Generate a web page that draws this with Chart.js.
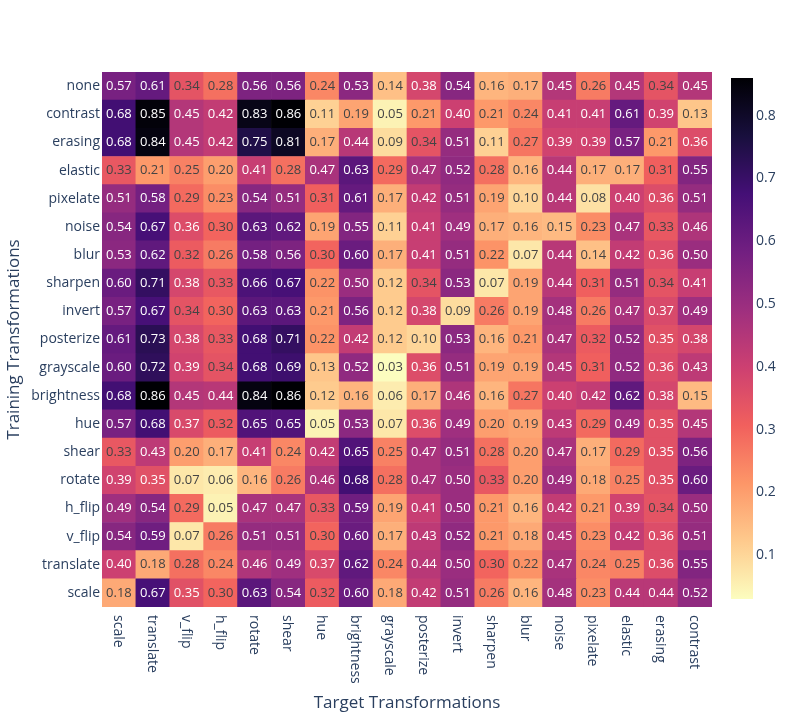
<!DOCTYPE html>
<html>
<head>
<meta charset="utf-8">
<script src="https://cdn.jsdelivr.net/npm/chart.js@4/dist/chart.umd.min.js"></script>
<style>
  body { margin: 0; background: #fff; }
  #main { position: absolute; left: 0; top: 0; width: 789px; height: 717px; }
  #bar { position: absolute; left: 700px; top: 0; width: 89px; height: 717px; }
</style>
</head>
<body>
<div id="main"><canvas id="heat"></canvas></div>
<div id="bar"><canvas id="colorbar"></canvas></div>
<script>
// target transformations (columns, left to right)
var targetLabels = ['scale', 'translate', 'v_flip', 'h_flip', 'rotate', 'shear', 'hue', 'brightness', 'grayscale',
    'posterize', 'invert', 'sharpen', 'blur', 'noise', 'pixelate', 'elastic', 'erasing', 'contrast'];

// training transformations (rows, top to bottom)
var trainingLabels = ['none', 'contrast', 'erasing', 'elastic', 'pixelate', 'noise', 'blur', 'sharpen', 'invert',
    'posterize', 'grayscale', 'brightness', 'hue', 'shear', 'rotate', 'h_flip', 'v_flip', 'translate', 'scale'];

var rowNone       = [0.57, 0.61, 0.34, 0.28, 0.56, 0.56, 0.24, 0.53, 0.14, 0.38, 0.54, 0.16, 0.17, 0.45, 0.26, 0.45, 0.34, 0.45];
var rowContrast   = [0.68, 0.85, 0.45, 0.42, 0.83, 0.86, 0.11, 0.19, 0.05, 0.21, 0.40, 0.21, 0.24, 0.41, 0.41, 0.61, 0.39, 0.13];
var rowErasing    = [0.68, 0.84, 0.45, 0.42, 0.75, 0.81, 0.17, 0.44, 0.09, 0.34, 0.51, 0.11, 0.27, 0.39, 0.39, 0.57, 0.21, 0.36];
var rowElastic    = [0.33, 0.21, 0.25, 0.20, 0.41, 0.28, 0.47, 0.63, 0.29, 0.47, 0.52, 0.28, 0.16, 0.44, 0.17, 0.17, 0.31, 0.55];
var rowPixelate   = [0.51, 0.58, 0.29, 0.23, 0.54, 0.51, 0.31, 0.61, 0.17, 0.42, 0.51, 0.19, 0.10, 0.44, 0.08, 0.40, 0.36, 0.51];
var rowNoise      = [0.54, 0.67, 0.36, 0.30, 0.63, 0.62, 0.19, 0.55, 0.11, 0.41, 0.49, 0.17, 0.16, 0.15, 0.23, 0.47, 0.33, 0.46];
var rowBlur       = [0.53, 0.62, 0.32, 0.26, 0.58, 0.56, 0.30, 0.60, 0.17, 0.41, 0.51, 0.22, 0.07, 0.44, 0.14, 0.42, 0.36, 0.50];
var rowSharpen    = [0.60, 0.71, 0.38, 0.33, 0.66, 0.67, 0.22, 0.50, 0.12, 0.34, 0.53, 0.07, 0.19, 0.44, 0.31, 0.51, 0.34, 0.41];
var rowInvert     = [0.57, 0.67, 0.34, 0.30, 0.63, 0.63, 0.21, 0.56, 0.12, 0.38, 0.09, 0.26, 0.19, 0.48, 0.26, 0.47, 0.37, 0.49];
var rowPosterize  = [0.61, 0.73, 0.38, 0.33, 0.68, 0.71, 0.22, 0.42, 0.12, 0.10, 0.53, 0.16, 0.21, 0.47, 0.32, 0.52, 0.35, 0.38];
var rowGrayscale  = [0.60, 0.72, 0.39, 0.34, 0.68, 0.69, 0.13, 0.52, 0.03, 0.36, 0.51, 0.19, 0.19, 0.45, 0.31, 0.52, 0.36, 0.43];
var rowBrightness = [0.68, 0.86, 0.45, 0.44, 0.84, 0.86, 0.12, 0.16, 0.06, 0.17, 0.46, 0.16, 0.27, 0.40, 0.42, 0.62, 0.38, 0.15];
var rowHue        = [0.57, 0.68, 0.37, 0.32, 0.65, 0.65, 0.05, 0.53, 0.07, 0.36, 0.49, 0.20, 0.19, 0.43, 0.29, 0.49, 0.35, 0.45];
var rowShear      = [0.33, 0.43, 0.20, 0.17, 0.41, 0.24, 0.42, 0.65, 0.25, 0.47, 0.51, 0.28, 0.20, 0.47, 0.17, 0.29, 0.35, 0.56];
var rowRotate     = [0.39, 0.35, 0.07, 0.06, 0.16, 0.26, 0.46, 0.68, 0.28, 0.47, 0.50, 0.33, 0.20, 0.49, 0.18, 0.25, 0.35, 0.60];
var rowHFlip      = [0.49, 0.54, 0.29, 0.05, 0.47, 0.47, 0.33, 0.59, 0.19, 0.41, 0.50, 0.21, 0.16, 0.42, 0.21, 0.39, 0.34, 0.50];
var rowVFlip      = [0.54, 0.59, 0.07, 0.26, 0.51, 0.51, 0.30, 0.60, 0.17, 0.43, 0.52, 0.21, 0.18, 0.45, 0.23, 0.42, 0.36, 0.51];
var rowTranslate  = [0.40, 0.18, 0.28, 0.24, 0.46, 0.49, 0.37, 0.62, 0.24, 0.44, 0.50, 0.30, 0.22, 0.47, 0.24, 0.25, 0.36, 0.55];
var rowScale      = [0.18, 0.67, 0.35, 0.30, 0.63, 0.54, 0.32, 0.60, 0.18, 0.42, 0.51, 0.26, 0.16, 0.48, 0.23, 0.44, 0.44, 0.52];

var trainingRows = [rowNone, rowContrast, rowErasing, rowElastic, rowPixelate, rowNoise, rowBlur, rowSharpen, rowInvert,
    rowPosterize, rowGrayscale, rowBrightness, rowHue, rowShear, rowRotate, rowHFlip, rowVFlip, rowTranslate, rowScale];

var colorbarTicks = [0.1, 0.2, 0.3, 0.4, 0.5, 0.6, 0.7, 0.8];

// plotly Magma, used reversed (light = low)
var magmaStops = ['#000004', '#180f3d', '#440f76', '#721f81', '#9e2f7f', '#cd4071', '#f1605d', '#fd9668', '#feca8d', '#fcfdbf'];

var FONT = 'Open Sans';
var INK = '#2a3f5f';

var allVals = [].concat.apply([], trainingRows);
var zMin = Math.min.apply(null, allVals);
var zMax = Math.max.apply(null, allVals);

function hexRgb(h) {
    return [parseInt(h.substr(1, 2), 16), parseInt(h.substr(3, 2), 16), parseInt(h.substr(5, 2), 16)];
}

function rgbFor(v) {
    var t = (v - zMin) / (zMax - zMin);
    var s = (1 - t) * (magmaStops.length - 1);   // reversed scale
    var i = Math.min(Math.floor(s), magmaStops.length - 2);
    var f = s - i;
    var a = hexRgb(magmaStops[i]), b = hexRgb(magmaStops[i + 1]);
    return [0, 1, 2].map(function(k) { return Math.round(a[k] + (b[k] - a[k]) * f); });
}

function colorFor(v) {
    var c = rgbFor(v);
    return 'rgb(' + c[0] + ',' + c[1] + ',' + c[2] + ')';
}

function textColorFor(v) {
    var c = rgbFor(v);
    var bright = (c[0] * 299 + c[1] * 587 + c[2] * 114) / 1000;
    return bright < 128 ? '#ffffff' : '#444444';
}

// one stacked dataset per training row, bottom row first
var datasets = [];
for (var k = trainingRows.length - 1; k >= 0; k--) {
    var row = trainingRows[k];
    datasets.push({
        label: trainingLabels[k],
        data: row.map(function() { return 1; }),
        values: row,
        backgroundColor: row.map(colorFor),
        borderWidth: 0,
        barPercentage: 1,
        categoryPercentage: 1
    });
}

var cellText = {
    id: 'cellText',
    afterDatasetsDraw: function(chart) {
        var ctx = chart.ctx;
        ctx.save();
        ctx.font = '13px "' + FONT + '"';
        ctx.textAlign = 'center';
        ctx.textBaseline = 'middle';
        chart.data.datasets.forEach(function(ds, i) {
            chart.getDatasetMeta(i).data.forEach(function(bar, j) {
                var v = ds.values[j];
                ctx.fillStyle = textColorFor(v);
                ctx.fillText(v.toFixed(2), bar.x, (bar.y + bar.base) / 2);
            });
        });
        ctx.restore();
    }
};

// x tick labels read top to bottom, so draw them turned clockwise
var xTickText = {
    id: 'xTickText',
    afterDraw: function(chart) {
        var ctx = chart.ctx;
        var xs = chart.scales.x;
        ctx.save();
        ctx.font = '14px "' + FONT + '"';
        ctx.fillStyle = INK;
        ctx.textAlign = 'left';
        ctx.textBaseline = 'middle';
        targetLabels.forEach(function(lab, i) {
            ctx.save();
            ctx.translate(xs.getPixelForTick(i) - 1, chart.chartArea.bottom + 8);
            ctx.rotate(Math.PI / 2);
            ctx.fillText(lab, 0, 0);
            ctx.restore();
        });
        ctx.restore();
    }
};

new Chart(document.getElementById('heat'), {
    type: 'bar',
    data: { labels: targetLabels, datasets: datasets },
    plugins: [cellText, xTickText],
    options: {
        responsive: true,
        maintainAspectRatio: false,
        animation: false,
        layout: { padding: { left: 0, top: 72, right: 77, bottom: 0 } },
        plugins: { legend: { display: false }, tooltip: { enabled: false } },
        scales: {
            x: {
                stacked: true,
                grid: { display: false, drawTicks: false },
                border: { display: false },
                ticks: { display: false },
                afterFit: function(s) { s.height = 110; },
                title: { display: true, text: 'Target Transformations', color: INK, font: { family: FONT, size: 17 } }
            },
            y: {
                stacked: true,
                min: 0,
                max: trainingLabels.length,
                grid: { display: false, drawTicks: false },
                border: { display: false },
                afterBuildTicks: function(s) {
                    s.ticks = trainingLabels.map(function(_, i) { return { value: i + 0.5 }; });
                },
                afterFit: function(s) { s.width = 102; },
                ticks: {
                    padding: 2,
                    color: INK,
                    font: { family: FONT, size: 14 },
                    callback: function(value) {
                        return trainingLabels[trainingLabels.length - 1 - Math.floor(value)];
                    }
                },
                title: { display: true, text: 'Training Transformations', color: INK, font: { family: FONT, size: 17 } }
            }
        }
    }
});

// colour bar
new Chart(document.getElementById('colorbar'), {
    type: 'bar',
    data: {
        labels: [''],
        datasets: [{
            data: [[zMin, zMax]],
            borderWidth: 0,
            barPercentage: 1,
            categoryPercentage: 1,
            backgroundColor: function(c) {
                var area = c.chart.chartArea;
                if (!area) return null;
                var g = c.chart.ctx.createLinearGradient(0, area.bottom, 0, area.top);
                var n = magmaStops.length;
                for (var i = 0; i < n; i++) g.addColorStop(i / (n - 1), magmaStops[n - 1 - i]);
                return g;
            }
        }]
    },
    options: {
        responsive: true,
        maintainAspectRatio: false,
        animation: false,
        layout: { padding: { left: 31, top: 78, right: 0, bottom: 118 } },
        plugins: { legend: { display: false }, tooltip: { enabled: false } },
        scales: {
            x: { display: false },
            y: {
                position: 'right',
                min: zMin,
                max: zMax,
                grid: { display: false, drawTicks: false },
                border: { display: false },
                afterBuildTicks: function(s) {
                    s.ticks = colorbarTicks.map(function(v) { return { value: v }; });
                },
                afterFit: function(s) { s.width = 36; },
                ticks: {
                    padding: 3,
                    color: INK,
                    font: { family: FONT, size: 14 },
                    callback: function(v) { return v.toFixed(1); }
                }
            }
        }
    }
});
</script>
</body>
</html>
